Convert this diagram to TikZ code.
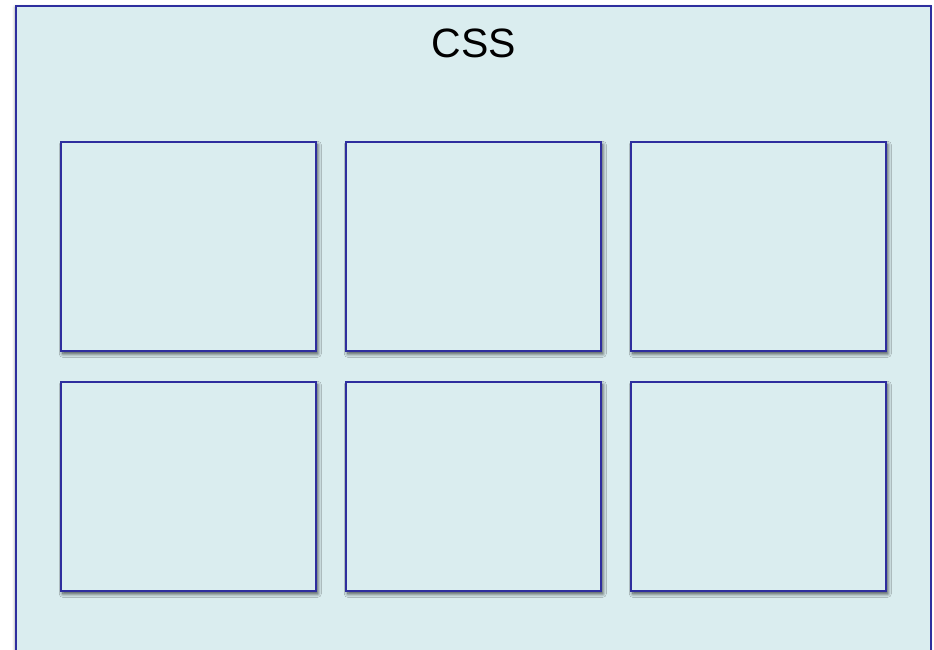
\documentclass[tikz,border=0pt]{standalone}
\usepackage{fontspec}
\setmainfont{Liberation Sans}
\usetikzlibrary{shadows.blur}
\definecolor{panelfill}{HTML}{DAEDEF}
\definecolor{panelline}{HTML}{2E2E9E}
\begin{document}
\begin{tikzpicture}[x=1pt,y=-1pt,
  cell/.style={draw=panelline,line width=1.6pt,fill=panelfill,minimum width=255pt,minimum height=209pt,inner sep=0pt,anchor=north west,
    blur shadow={shadow xshift=2pt,shadow yshift=-3pt,shadow blur steps=8,shadow blur radius=3.5pt,shadow opacity=70}},
  outer/.style={draw=panelline,line width=2pt,fill=panelfill,
    blur shadow={shadow xshift=-1pt,shadow yshift=-1pt,shadow blur steps=6,shadow blur radius=3pt,shadow opacity=30}}]
\useasboundingbox (0,0) rectangle (934,649);
\begin{scope}
\clip (0,0) rectangle (934,649);
\path[outer] (16,6) rectangle (931,670);
\end{scope}
\node[font=\fontsize{41}{48}\selectfont] (title) at (474,43) {CSS};
\node[cell] (a1) at (60,141) {};
\node[cell] (a2) at (345,141) {};
\node[cell] (a3) at (630,141) {};
\node[cell] (b1) at (60,381) {};
\node[cell] (b2) at (345,381) {};
\node[cell] (b3) at (630,381) {};
\end{tikzpicture}
\end{document}
